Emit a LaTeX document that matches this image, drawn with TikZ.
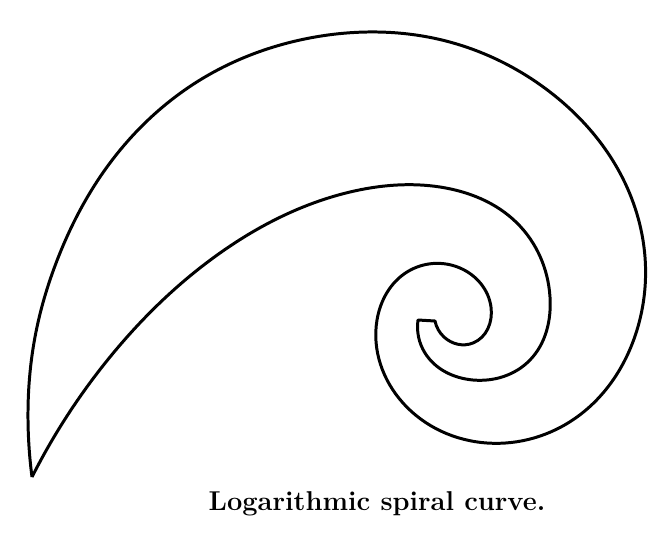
\documentclass[tikz,border=0pt]{standalone}
\usepackage{tikz}
\usetikzlibrary{hobby}
\tikzset{
  spiral/.style  = {line width=1.7pt, draw=black, line join=round, use Hobby shortcut},
  caption/.style = {font=\fontsize{15.5}{18}\selectfont\bfseries, inner sep=0pt}
}

\begin{document}
\begin{tikzpicture}[x=0.02cm, y=-0.02cm]
\useasboundingbox (0,0) rectangle (667,545);

% outer edge, from the tip
\draw[spiral] (32,477) .. (28,420) .. (35,337) .. (58,258) .. (107,167) .. (200,80)
    .. (300,40) .. (367,32) .. (433,38) .. (550,92) .. (620,173) .. (645,257)
    .. (637,330) .. (577,417) .. (487,443) .. (403,403) .. (377,320) .. (407,272)
    .. (460,268) .. (491,307) .. (473,343) .. (444,337) .. (435,321)
  -- (418,320)
  % inner edge, back to the tip
  .. (425,353) .. (473,380) .. (530,360) .. (550,297) .. (517,223) .. (440,187)
    .. (350,192) .. (220,253) .. (110,357) .. (32,477);

\node[caption] (cap) at (377,504) {Logarithmic spiral curve.};
\end{tikzpicture}
\end{document}
